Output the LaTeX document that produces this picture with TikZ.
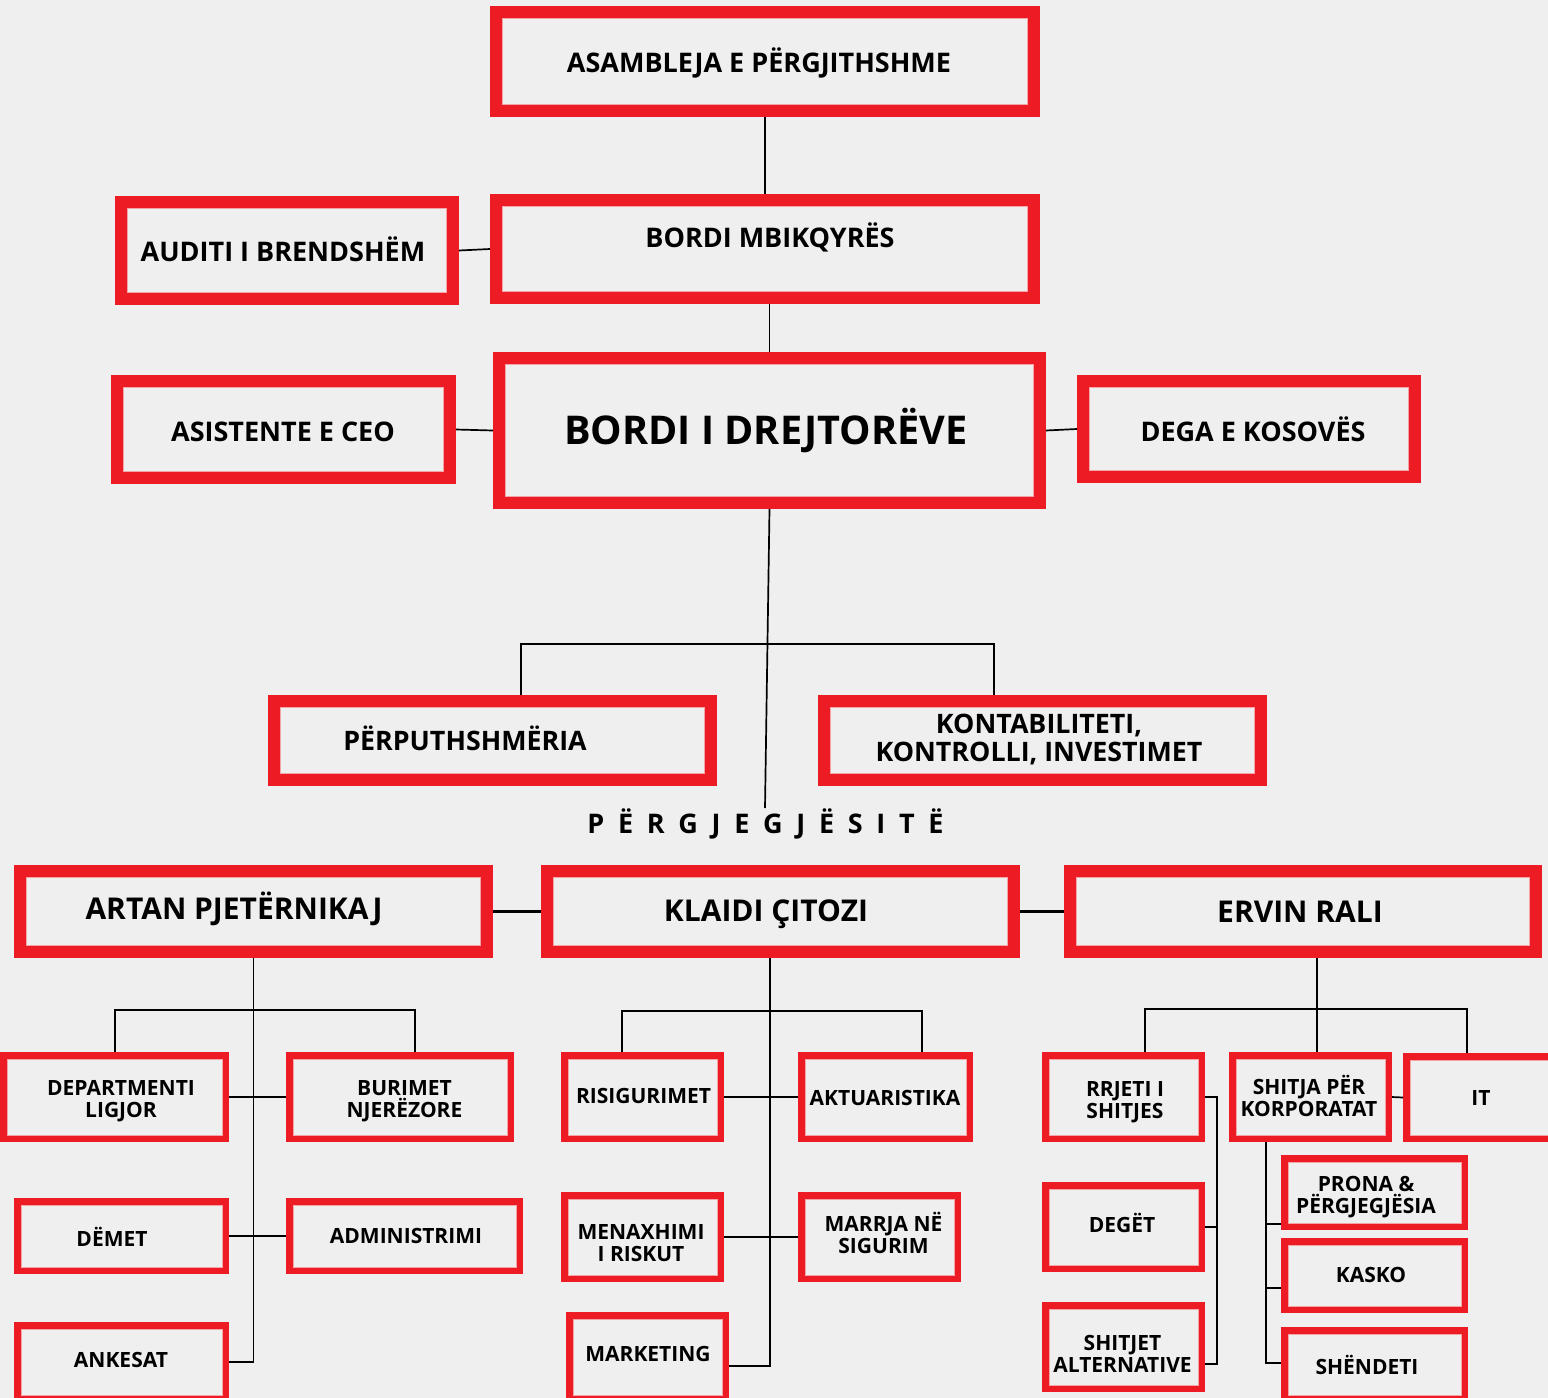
\documentclass[tikz,border=0pt]{standalone}
\usepackage{fontspec}
\setmainfont{Open Sans}
\usetikzlibrary{calc}
\definecolor{myred}{HTML}{ED1C24}
\definecolor{bg}{HTML}{EFEFEF}
\definecolor{pale}{HTML}{F4A3A6}
\newcommand\bx[6]{% #1 line width px, #2 name, #3 x1, #4 y1, #5 x2, #6 y2 (outer edges, px)
  \pgfmathsetmacro\bxlw{#1*0.5}%
  \node[box, line width=\bxlw pt, minimum width={(#5-#3-#1)*0.5pt}, minimum height={(#6-#4-#1)*0.5pt}] (#2) at ({(#3+#5)/2},{(#4+#6)/2}) {};%
}
\newcommand\two[2]{\vtop{\lineskiplimit=-\maxdimen\halign{\hfil##\hfil\cr#1\cr#2\cr}}}
\begin{document}
\begin{tikzpicture}[x=0.5pt,y=-0.5pt,
  box/.style={draw=myred, fill=bg, rectangle, inner sep=0pt,
    path picture={\draw[pale, line width=0.5pt]
      ([shift={(\bxlw pt/2+0.25pt,-\bxlw pt/2-0.25pt)}]path picture bounding box.north west) rectangle
      ([shift={(-\bxlw pt/2-0.25pt,\bxlw pt/2+0.25pt)}]path picture bounding box.south east);}},
  txt/.style={anchor=base, inner sep=0pt, text=black, font=\bfseries},
  fa/.style={font=\bfseries\fontsize{13.5}{14}\selectfont},
  fb/.style={font=\bfseries\fontsize{19.8}{20}\selectfont},
  fc/.style={font=\bfseries\fontsize{13.4}{13.75}\selectfont},
  fd/.style={font=\bfseries\fontsize{15}{16}\selectfont},
  fe/.style={font=\bfseries\fontsize{10.5}{11}\selectfont},
  con/.style={draw=black, line width=0.85pt},
  conthick/.style={draw=black, line width=1.3pt}]
\useasboundingbox[fill=bg] (0,0) rectangle (1548,1398);

% ---------- boxes ----------
\bx{12}{asm}{490}{6}{1040}{117}
\bx{12}{mbk}{490}{194}{1040}{304}
\bx{12}{bdr}{493}{352}{1046}{509}
\bx{12}{aud}{115}{196}{459}{305}
\bx{12}{asi}{111}{375}{456}{484}
\bx{12}{deg}{1077}{375}{1421}{483}
\bx{12}{per}{268}{695}{717}{786}
\bx{12}{kon}{818}{695}{1267}{786}
\bx{12}{art}{14}{865}{493}{958}
\bx{12}{kla}{541}{865}{1020}{958}
\bx{12}{erv}{1064}{865}{1542}{958}
\bx{6.5}{lig}{0}{1052}{229}{1142}
\bx{6.5}{bur}{286}{1052}{514}{1142}
\bx{6.5}{dem}{14}{1198}{229}{1274}
\bx{6.5}{adm}{286}{1198}{523}{1274}
\bx{6.5}{ank}{14}{1322}{229}{1402}
\bx{6.5}{ris}{561}{1052}{724}{1142}
\bx{6.5}{akt}{798}{1052}{973}{1142}
\bx{6.5}{men}{561}{1192}{724}{1282}
\bx{6.5}{mar}{798}{1192}{961}{1282}
\bx{6.5}{mkt}{566}{1312}{729}{1402}
\bx{6.5}{rrj}{1042}{1052}{1205}{1142}
\bx{6.5}{shk}{1229}{1052}{1392}{1142}
\bx{6.5}{it}{1403}{1053}{1560}{1142}
\bx{6.5}{dgt}{1042}{1182}{1205}{1272}
\bx{6.5}{alt}{1042}{1302}{1205}{1392}
\bx{6.5}{pro}{1281}{1155}{1468}{1230}
\bx{6.5}{kas}{1281}{1238}{1468}{1313}
\bx{6.5}{shd}{1281}{1327}{1468}{1402}

% ---------- texts ----------
\node[txt,fa] (tasm) at (759,72) {ASAMBLEJA E PËRGJITHSHME};
\node[txt,fa] (tmbk) at (770,247.5) {BORDI MBIKQYRËS};
\node[txt,fb] (tbdr) at (766,444.5) {BORDI I DREJTORËVE};
\node[txt,fa] (taud) at (283,261) {AUDITI I BRENDSHËM};
\node[txt,fa] (tasi) at (283,441.3) {ASISTENTE E CEO};
\node[txt,fa] (tdeg) at (1253,441) {DEGA E KOSOVËS};
\node[txt,fc] (tper) at (465,750.7) {PËRPUTHSHMËRIA};
\node[txt,fc] (tkon) at (1039,733.8) {\two{KONTABILITETI,}{KONTROLLI, INVESTIMET}};
\node[txt,fa] (tpg) at (765.5,833) {P\kern6.85pt Ë\kern6.85pt R\kern6.85pt G\kern6.85pt J\kern6.85pt E\kern6.85pt G\kern6.85pt J\kern6.85pt Ë\kern6.85pt S\kern6.85pt I\kern6.85pt T\kern6.85pt Ë};
\node[txt,fd] (tart) at (234,919.5) {ARTAN PJETËRNIKAJ};
\node[txt,fd] (tkla) at (766,921) {KLAIDI ÇITOZI};
\node[txt,fd] (terv) at (1300,922) {ERVIN RALI};
\node[txt,fe] (tlig) at (121,1095) {\two{DEPARTMENTI}{LIGJOR}};
\node[txt,fe] (tbur) at (404.5,1095.7) {\two{BURIMET}{NJERËZORE}};
\node[txt,fe] (tdem) at (112,1246.3) {DËMET};
\node[txt,fe] (tadm) at (406,1243.3) {ADMINISTRIMI};
\node[txt,fe] (tank) at (121,1367) {ANKESAT};
\node[txt,fe] (tris) at (643.5,1103.3) {RISIGURIMET};
\node[txt,fe] (takt) at (885,1105.7) {AKTUARISTIKA};
\node[txt,fe] (tmen) at (641,1239) {\two{MENAXHIMI}{I RISKUT}};
\node[txt,fe] (tmar) at (883.5,1231) {\two{MARRJA NË}{SIGURIM}};
\node[txt,fe] (tmkt) at (648,1361) {MARKETING};
\node[txt,fe] (trrj) at (1125,1096.3) {\two{RRJETI I}{SHITJES}};
\node[txt,fe] (tshk) at (1309,1094.2) {\two{SHITJA PËR}{KORPORATAT}};
\node[txt,fe] (tit) at (1481,1105.8) {IT};
\node[txt,fe] (tdgt) at (1122,1232.7) {DEGËT};
\node[txt,fe] (talt) at (1122.5,1350.7) {\two{SHITJET}{ALTERNATIVE}};
\node[txt,fe] (tpro) at (1366,1191) {\two{PRONA \&}{PËRGJEGJËSIA}};
\node[txt,fe] (tkas) at (1371,1282.7) {KASKO};
\node[txt,fe] (tshd) at (1367,1374.3) {SHËNDETI};

% ---------- connectors ----------
\draw[con] (asm.south) -- (mbk.north);
\draw[con] (bdr.north) -- (bdr.north |- mbk.south);
\draw[con] (aud.east) -- (mbk.west);
\draw[con] (asi.east) -- (bdr.west);
\draw[con] (bdr.east) -- (deg.west);
\coordinate (pgtop) at (765,808);
\draw[con] (bdr.south) -- (pgtop);
\coordinate (bl) at (521,644);
\coordinate (br) at (994,644);
\draw[con] (per.north -| bl) -- (bl) -- (br) -- (kon.north -| br);

\draw[conthick] (art.east) -- (kla.west);
\draw[conthick] (kla.east) -- (erv.west);

% Artan group
\draw[con] (art.south) -- (art.south |- ank.east) -- (ank.east);
\coordinate (al) at (115,1010);
\coordinate (ar) at (415,1010);
\draw[con] (lig.north -| al) -- (al) -- (ar) -- (bur.north -| ar);
\draw[con] (lig.east) -- (bur.west);
\draw[con] (dem.east) -- (adm.west);

% Klaidi group
\coordinate (kv) at (770,1366);
\draw[con] (kla.south -| kv) -- (kv) -- (kv -| mkt.east);
\coordinate (kl) at (622,1011);
\coordinate (kr) at (922,1011);
\draw[con] (ris.north -| kl) -- (kl) -- (kr) -- (akt.north -| kr);
\draw[con] (ris.east) -- (akt.west);
\draw[con] (men.east) -- (mar.west);

% Ervin group
\coordinate (ev) at (1317,958);
\draw[con] (erv.south -| ev) -- (shk.north -| ev);
\coordinate (el) at (1145,1009);
\coordinate (er) at (1467,1009);
\draw[con] (rrj.north -| el) -- (el) -- (er) -- (it.north -| er);
\draw[con] (shk.east) -- (it.west);
\coordinate (rb) at (1217,1364);
\draw[con] (rrj.east) -- (rrj.east -| rb) -- (rb) -- (rb -| alt.east);
\draw[con] (dgt.east) -- (dgt.east -| rb);
\coordinate (sb) at (1266,1363);
\coordinate (ps) at (1281,1224);
\coordinate (ks) at (1281,1288);
\draw[con] (shk.south -| sb) -- (sb) -- (sb -| shd.west);
\draw[con] (sb |- ps) -- (ps);
\draw[con] (sb |- ks) -- (ks);
\end{tikzpicture}
\end{document}
